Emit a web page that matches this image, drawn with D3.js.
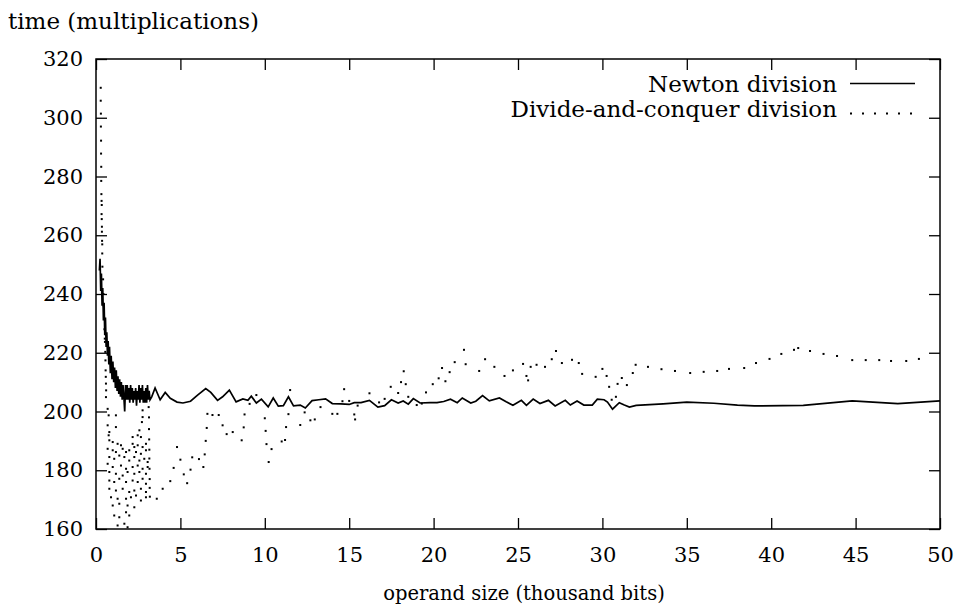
<!DOCTYPE html>
<html>
<head>
<meta charset="utf-8">
<script src="https://cdn.jsdelivr.net/npm/d3@7"></script>
<style>
  body { margin: 0; background: #fff; }
  svg text { font-family: "DejaVu Serif", serif; font-size: 23px; fill: #000; }
</style>
</head>
<body>
<svg id="chart" width="956" height="613"></svg>
<script>
// tick values
let xTicks = [0, 5, 10, 15, 20, 25, 30, 35, 40, 45, 50];
let yTicks = [160, 180, 200, 220, 240, 260, 280, 300, 320];

// Newton division: noisy start, then the smoother tail
let newtonStart = [
  [0.20,248],[0.24,252],[0.28,241],[0.32,247],[0.36,236],[0.40,242],[0.44,231],[0.48,237],
  [0.52,226],[0.56,232],[0.60,222],[0.64,227],[0.68,219],[0.72,224],[0.76,216],[0.80,222],
  [0.85,213],[0.90,219],[0.95,211],[1.00,217],[1.05,210],[1.10,215],[1.15,208],[1.20,214],
  [1.25,207],[1.30,212],[1.35,206],[1.40,211],[1.45,205],[1.50,210],[1.55,204],[1.60,209],
  [1.65,205],[1.70,200],[1.75,209],[1.80,204],[1.85,209],[1.90,204],[1.95,208],[2.00,203],
  [2.05,209],[2.10,204],[2.15,208],[2.20,203],[2.25,207],[2.30,204],[2.35,208],[2.40,202],
  [2.45,207],[2.50,204],[2.55,209],[2.60,203],[2.65,208],[2.70,204],[2.75,209],[2.80,203],
  [2.85,207],[2.90,203],[2.95,208],[3.00,203],[3.05,209],[3.10,204],[3.15,207],[3.20,204]
];
let newtonTail = [
  [3.3,205],[3.5,208],[3.8,204],[4.1,206.5],[4.4,204.5],[4.8,203.2],[5.15,202.9],[5.6,203.5],
  [6.0,205.5],[6.5,207.8],[6.8,206.5],[7.2,203.8],[7.5,205],[7.9,207.3],[8.3,203.3],[8.7,204.3],
  [9.0,203.8],[9.2,205.2],[9.5,202.9],[9.8,204.2],[10.2,201.6],[10.5,204.6],[10.8,201.8],[11.1,202],
  [11.4,205],[11.7,201.9],[12.1,202.2],[12.4,201.2],[12.8,203.7],[13.2,204],[13.6,204.3],[14.0,202.7],
  [14.5,202.6],[15.0,202.4],[15.3,203],[15.7,203],[16.2,203.8],[16.7,201.5],[17.1,202],[17.5,204],
  [17.9,202.9],[18.2,203.6],[18.5,202.5],[18.8,204.4],[19.2,202.9],[19.8,203],[20.2,203],[20.6,203.4],
  [21.0,204.2],[21.4,203],[21.7,204.6],[22.2,202.9],[22.5,203.5],[22.9,205.4],[23.3,203.6],[23.9,204.6],
  [24.3,203.3],[24.7,202.1],[25.2,203.8],[25.5,202.1],[25.9,204.2],[26.3,202.7],[26.8,203.8],[27.2,201.9],
  [27.8,203.8],[28.1,202.2],[28.5,203.6],[28.9,202.2],[29.4,202.2],[29.7,204.2],[30.1,204],[30.3,203.2],
  [30.6,200.8],[31.0,203],[31.3,202.2],[31.6,201.5],[32.0,202.1],[33.6,202.6],[35.0,203.2],[36.6,202.8],
  [38.0,202.2],[39.0,201.9],[41.9,202.1],[44.8,203.6],[47.5,202.7],[50,203.6]
];

// Divide-and-conquer division: separate dots
let dcColumn = [
  [0.28,310.2],[0.28,305.8],[0.29,301.4],[0.29,297.0],[0.30,292.2],[0.30,287.8],[0.31,283.3],[0.31,278.5],
  [0.32,274.0],[0.33,271.7],[0.34,270.3],[0.33,267.2],[0.34,265.5],[0.35,262.9],[0.35,261.2],[0.36,258.1],
  [0.37,256.9],[0.37,253.8],[0.38,249.3],[0.42,245],[0.44,240],[0.46,236],[0.48,232],[0.50,228],
  [0.52,224.8],[0.53,223.7],[0.55,220.3],[0.56,217.4],[0.57,214],[0.58,211.8],[0.59,209.5],[0.60,207.2]
];
let dcCloud = [
  [0.59,204.9],[0.69,200.9],[0.75,198.7],[1.18,198.7],[2.76,200.4],[2.76,198.1],[2.72,196.4],[0.69,195.3],
  [0.79,193.0],[0.75,191.9],[1.18,194.7],[2.57,193.6],[2.47,191.9],[2.66,191.3],[2.17,191.3],[0.79,190.2],
  [0.99,189.6],[1.28,189.0],[1.48,188.5],[2.17,189.0],[2.27,187.9],[2.47,188.5],[2.76,187.9],[2.96,189.0],
  [0.69,187.3],[0.99,186.8],[1.18,186.2],[1.58,187.3],[1.78,186.2],[1.97,186.8],[2.37,186.2],[2.66,185.6],
  [2.96,186.8],[0.79,184.5],[1.08,183.9],[1.38,185.0],[1.68,184.5],[1.97,183.3],[2.27,184.5],[2.57,183.3],
  [2.86,183.9],[3.06,182.8],[0.69,182.2],[0.99,181.1],[1.48,181.6],[1.78,180.5],[2.17,181.1],[2.47,181.6],
  [2.76,180.5],[3.06,181.1],[0.79,179.4],[1.18,178.8],[1.58,178.2],[1.87,179.4],[2.27,178.8],[2.57,179.4],
  [2.96,178.8],[0.79,176.5],[1.08,176.0],[1.38,177.1],[1.78,176.0],[2.17,176.5],[2.47,176.0],[2.76,177.1],
  [2.96,175.4],[0.79,173.7],[1.18,173.1],[1.58,173.7],[1.97,172.6],[2.27,173.1],[2.66,173.7],[2.96,172.6],
  [0.89,170.8],[1.28,170.3],[1.78,170.3],[2.07,170.8],[2.37,171.4],[2.66,169.7],[2.96,170.8],[0.99,168.0],
  [1.38,168.6],[1.87,168.0],[2.27,167.4],[1.08,164.6],[1.38,164.0],[1.78,165.7],[1.97,164.6],[1.28,161.2],
  [1.68,161.8],[1.87,160.6],
  [3.12,205],[3.12,201.5],[3.14,198],[3.14,194],[3.15,190.5],[3.16,187],[3.16,184],[3.17,180.5],
  [3.18,177],[3.18,174],[3.19,171]
];
let dcTail = [
  [3.6,170.3],[3.95,173.7],[4.4,176.3],[4.6,180.8],[4.8,187.9],[5.0,183.6],[5.2,178.6],[5.4,175.6],
  [5.6,180.2],[5.7,184.4],[6.1,183.8],[6.36,181.1],[6.44,185.4],[6.5,190.0],[6.56,194.4],[6.6,199.2],
  [6.9,198.8],[7.27,198.8],[7.5,195.3],[7.74,192.3],[8.1,193.0],[8.63,190.2],[8.75,194.6],[8.8,199.0],
  [9.1,202.6],[9.5,205.6],[10.0,197.7],[10.05,193.4],[10.1,188.9],[10.23,182.8],[10.4,187.2],[11.0,189.8],
  [11.2,190.3],[11.26,194.7],[11.4,199.1],[11.5,207.3],[12.1,195.4],[12.36,199.7],[12.7,197.0],[12.96,197.3],
  [13.3,201.5],[14.0,199.2],[14.3,199.2],[14.6,203.5],[14.7,207.6],[15.0,203.6],[15.3,199.0],[15.35,197.3],
  [15.5,202.0],[16.2,206.2],[16.77,203.1],[17.1,204.3],[17.46,208.4],[17.9,206.3],[18.07,210.0],[18.23,213.7],
  [18.35,209.3],[18.5,205.0],[19.0,202.2],[19.3,202.7],[19.55,206.5],[19.95,209.3],[20.3,211.3],[20.5,214.8],
  [20.7,210.3],[20.95,213.4],[21.25,216.8],[21.8,221.0],[21.9,216.1],[22.7,213.8],[23.05,217.8],[23.6,215.2],
  [24.2,212.1],[24.7,214.0],[25.3,216.2],[25.5,212.1],[25.6,210.6],[25.75,215.2],[26.1,215.9],[26.6,215.2],
  [27.0,217.8],[27.25,220.6],[27.6,216.5],[28.2,217.6],[28.6,216.5],[28.8,212.8],[29.6,211.8],[30.0,214.5],
  [30.25,212.1],[30.4,208.4],[30.55,204.0],[30.8,205.0],[30.9,209.4],[31.15,211.4],[31.45,209.0],[31.8,213.1],
  [31.97,215.9],[32.7,215.2],[33.5,214.4],[34.3,213.8],[35.2,213.1],[36.0,213.5],[36.8,213.8],[37.5,214.5],
  [38.4,214.8],[39.1,216.5],[39.9,217.9],[40.6,219.6],[41.35,221.0],[41.6,221.6],[42.3,220.6],[43.1,219.6],
  [43.9,218.9],[44.8,217.5],[45.6,217.5],[46.4,217.5],[47.1,217.2],[48.0,217.2],[48.75,217.9]
];

let seriesNames = ['Newton division', 'Divide-and-conquer division'];

let svg = d3.select('#chart');
let m = {left: 96, right: 940, top: 59, bottom: 529};

let sx = d3.scaleLinear().domain([0, 50]).range([m.left, m.right]);
let sy = d3.scaleLinear().domain([160, 320]).range([m.bottom, m.top]);

// axes, ticks pointing inward on all four sides
let gx = svg.append('g').attr('transform', `translate(0,${m.bottom})`)
  .call(d3.axisBottom(sx).tickValues(xTicks).tickSizeInner(-11).tickSizeOuter(0));
gx.selectAll('text').attr('y', 33).attr('dy', null);

let gy = svg.append('g').attr('transform', `translate(${m.left},0)`)
  .call(d3.axisLeft(sy).tickValues(yTicks).tickSizeInner(-11).tickSizeOuter(0).tickPadding(13));

svg.append('g').attr('transform', `translate(0,${m.top})`)
  .call(d3.axisTop(sx).tickValues(xTicks).tickSizeInner(-11).tickSizeOuter(0).tickFormat(''));
svg.append('g').attr('transform', `translate(${m.right},0)`)
  .call(d3.axisRight(sy).tickValues(yTicks).tickSizeInner(-11).tickSizeOuter(0).tickFormat(''));

svg.selectAll('.domain').remove();
svg.selectAll('.tick line').attr('stroke', '#000').attr('stroke-width', 1.3);
svg.selectAll('.tick text').style('font-family', '"DejaVu Serif", serif').style('font-size', '21px');

svg.append('rect')
  .attr('x', m.left).attr('y', m.top)
  .attr('width', m.right - m.left).attr('height', m.bottom - m.top)
  .attr('fill', 'none').attr('stroke', '#000').attr('stroke-width', 1.5);

// Newton line
let line = d3.line().x(d => sx(d[0])).y(d => sy(d[1]));
svg.append('path')
  .datum(newtonStart.concat(newtonTail))
  .attr('d', line)
  .attr('fill', 'none')
  .attr('stroke', '#000')
  .attr('stroke-width', 1.7)
  .attr('stroke-linejoin', 'miter');

// divide-and-conquer dots
svg.selectAll('.dot')
  .data(dcColumn.concat(dcCloud, dcTail))
  .enter()
  .append('rect')
  .attr('class', 'dot')
  .attr('x', d => sx(d[0]) - 1)
  .attr('y', d => sy(d[1]) - 1)
  .attr('width', 2)
  .attr('height', 2)
  .attr('fill', '#000');

// legend
let legend = svg.append('g').style('font-size', '22.5px');
legend.append('text').attr('x', 837).attr('y', 92).attr('text-anchor', 'end').text(seriesNames[0]);
legend.append('line').attr('x1', 850).attr('x2', 915).attr('y1', 83.5).attr('y2', 83.5)
  .attr('stroke', '#000').attr('stroke-width', 1.7);
legend.append('text').attr('x', 837).attr('y', 117).attr('text-anchor', 'end').text(seriesNames[1]);
legend.selectAll('.ldot')
  .data(d3.range(6))
  .enter()
  .append('rect')
  .attr('x', i => 851 + i * 12 - 1)
  .attr('y', 112.5)
  .attr('width', 2).attr('height', 2)
  .attr('fill', '#000');

// axis titles
svg.append('text').attr('x', 8).attr('y', 29).text('time (multiplications)');
svg.append('text').attr('x', (m.left + m.right) / 2 + 6).attr('y', 600)
  .attr('text-anchor', 'middle').style('font-size', '19.5px')
  .text('operand size (thousand bits)');
</script>
</body>
</html>
